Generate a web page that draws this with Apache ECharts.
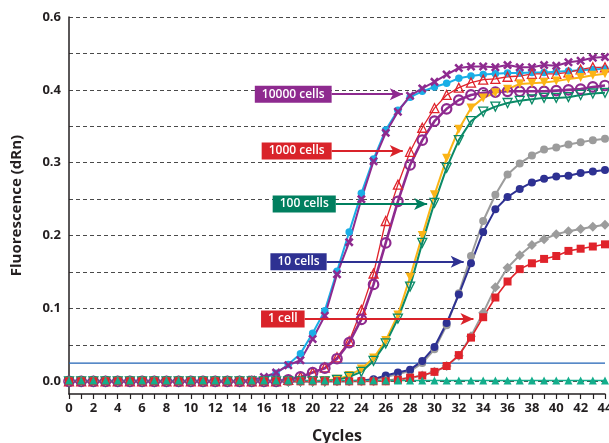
<!DOCTYPE html>
<html>
<head>
<meta charset="utf-8">
<script src="https://cdn.jsdelivr.net/npm/echarts@6/dist/echarts.min.js"></script>
<style>
  html, body { margin: 0; padding: 0; background: #fff; }
  #chart { width: 609px; height: 443px; }
</style>
</head>
<body>
<div id="chart"></div>
<script>
// PCR cycle numbers
const cycles = [0,1,2,3,4,5,6,7,8,9,10,11,12,13,14,15,16,17,18,19,20,21,22,23,24,25,26,27,28,29,30,31,32,33,34,35,36,37,38,39,40,41,42,43,44];

// Fluorescence (dRn) per cycle, two replicates per template amount
const cells10000A = [0,0,0,0,0,0,0,0,0,0,0,0,0,0,0,0.001,0.004,0.011,0.023,0.038,0.066,0.097,0.151,0.205,0.258,0.305,0.345,0.372,0.390,0.398,0.404,0.409,0.416,0.419,0.421,0.422,0.423,0.423,0.424,0.424,0.425,0.426,0.427,0.428,0.429];
const cells10000B = [0,0,0,0,0,0,0,0,0,0,0,0,0,0,0,0.002,0.006,0.012,0.022,0.029,0.058,0.090,0.147,0.191,0.250,0.302,0.341,0.370,0.392,0.402,0.411,0.421,0.430,0.432,0.432,0.431,0.434,0.431,0.431,0.434,0.433,0.438,0.440,0.444,0.445];
const cells1000A = [0,0,0,0,0,0,0,0,0,0,0,0,0,0,0,0,0,0,0.002,0.006,0.012,0.019,0.033,0.055,0.098,0.148,0.220,0.270,0.315,0.348,0.375,0.393,0.403,0.410,0.414,0.415,0.418,0.419,0.422,0.422,0.422,0.424,0.428,0.431,0.431];
const cells1000B = [0,0,0,0,0,0,0,0,0,0,0,0,0,0,0,0,0,0,0.002,0.006,0.012,0.018,0.031,0.053,0.085,0.133,0.190,0.247,0.297,0.331,0.357,0.374,0.386,0.393,0.396,0.397,0.398,0.398,0.398,0.398,0.399,0.400,0.401,0.404,0.406];
const cells100A = [0,0,0,0,0,0,0,0,0,0,0,0,0,0,0,0,0,0,0,0,0,0.001,0.003,0.008,0.017,0.032,0.056,0.091,0.143,0.200,0.256,0.306,0.346,0.375,0.389,0.396,0.401,0.408,0.409,0.410,0.412,0.415,0.417,0.420,0.422];
const cells100B = [0,0,0,0,0,0,0,0,0,0,0,0,0,0,0,0,0,0,0,0,0,0,0.002,0.006,0.013,0.028,0.052,0.086,0.130,0.190,0.245,0.293,0.331,0.357,0.370,0.377,0.382,0.385,0.387,0.389,0.389,0.390,0.393,0.395,0.396];
const cells10A = [0,0,0,0,0,0,0,0,0,0,0,0,0,0,0,0,0,0,0,0,0,0,0,0,0,0.002,0.006,0.010,0.014,0.025,0.044,0.077,0.121,0.172,0.220,0.256,0.284,0.299,0.310,0.318,0.321,0.325,0.328,0.331,0.333];
const cells10B = [0,0,0,0,0,0,0,0,0,0,0,0,0,0,0,0,0,0,0,0,0,0,0,0,0.001,0.003,0.008,0.012,0.016,0.028,0.047,0.080,0.119,0.162,0.205,0.236,0.253,0.264,0.273,0.278,0.281,0.282,0.286,0.288,0.290];
const cells1A = [0,0,0,0,0,0,0,0,0,0,0,0,0,0,0,0,0,0,0,0,0,0,0,0,0,0,0.001,0.003,0.005,0.008,0.013,0.021,0.035,0.062,0.094,0.129,0.156,0.173,0.187,0.195,0.202,0.206,0.209,0.212,0.215];
const cells1B = [0,0,0,0,0,0,0,0,0,0,0,0,0,0,0,0,0,0,0,0,0,0,0,0,0,0,0,0.002,0.005,0.008,0.013,0.021,0.036,0.060,0.088,0.115,0.137,0.154,0.162,0.168,0.172,0.179,0.182,0.185,0.188];
const noTemplate = [0.001,0.001,0.001,0.001,0.001,0.001,0.001,0.001,0.001,0.001,0.001,0.001,0.001,0.001,0.001,0.001,0.001,0.001,0.001,0.001,0.001,0.001,0.001,0.001,0.001,0.001,0.001,0.001,0.001,0.001,0.001,0.001,0.001,0.001,0.001,0.001,0.001,0.001,0.001,0.001,0.001,0.001,0.001,0.001,0.001];

// Threshold fluorescence, drawn across the whole cycle range
const threshold = 0.025;
const thresholdCycles = [0, 44];

// Y axis labels
const yLabelValues = [0, 0.1, 0.2, 0.3, 0.4, 0.5];
const yLabelTexts = ['0.0', '0.1', '0.2', '0.3', '0.4', '0.6'];
const yGridValues = [0, 0.05, 0.1, 0.15, 0.2, 0.25, 0.3, 0.35, 0.4, 0.45, 0.5];

// Callout texts
const calloutTexts = ['10000 cells', '1000 cells', '100 cells', '10 cells', '1 cell'];

const FONT = '"Open Sans", "Noto Sans", sans-serif';
const crossPath = 'path://M0,2 L2,0 L5,3 L8,0 L10,2 L7,5 L10,8 L8,10 L5,7 L2,10 L0,8 L3,5 Z';

function pairs(values) {
  return cycles.map((c, i) => [c, values[i]]);
}

// Callout: boxed label with an arrow, anchored in data coordinates
function callout(text, color, x0, x1, y) {
  return {
    silent: true,
    animation: false,
    symbol: ['none', 'arrow'],
    symbolSize: [9, 13],
    lineStyle: { color: color, width: 2, type: 'solid' },
    label: {
      show: true,
      position: 'start',
      distance: 0,
      formatter: text,
      color: '#fff',
      fontFamily: FONT,
      fontWeight: 600,
      fontSize: 12,
      backgroundColor: color,
      padding: [3, 7, 2, 7]
    },
    emphasis: { disabled: true },
    data: [[{ coord: [x0, y] }, { coord: [x1, y] }]]
  };
}

function lineSeries(name, values, opt) {
  const s = {
    name: name,
    type: 'line',
    data: pairs(values),
    symbol: opt.symbol,
    symbolSize: opt.size,
    symbolRotate: opt.rotate || 0,
    showAllSymbol: true,
    lineStyle: { color: opt.color, width: opt.width },
    itemStyle: opt.hollow
      ? { color: 'rgba(255,255,255,0)', borderColor: opt.color, borderWidth: opt.border || 1.4 }
      : { color: opt.color },
    emphasis: { disabled: true },
    animation: false
  };
  if (opt.markLine) s.markLine = opt.markLine;
  return s;
}

const PURPLE = '#8e2a8f', CYAN = '#1aaee6', RED = '#e0232b', YELLOW = '#fbb416',
      GREEN = '#0b8a67', GRAY = '#9c9c9c', NAVY = '#2e3192', TEAL = '#13ae8c',
      THRESH = '#1f62b5';

const series = [
  {
    name: 'Threshold',
    type: 'line',
    data: thresholdCycles.map(c => [c, threshold]),
    symbol: 'none',
    lineStyle: { color: THRESH, width: 1.2 },
    emphasis: { disabled: true },
    silent: true,
    animation: false
  },
  lineSeries('10000 cells A', cells10000A, { symbol: 'circle', size: 7.5, color: CYAN, width: 2 }),
  lineSeries('10000 cells B', cells10000B, { symbol: crossPath, size: 9, color: PURPLE, width: 2,
    markLine: callout(calloutTexts[0], PURPLE, 21.56, 27.4, 0.394) }),
  lineSeries('1000 cells A', cells1000A, { symbol: 'triangle', size: 9, color: RED, width: 1.3, hollow: true, border: 1.3,
    markLine: callout(calloutTexts[1], '#d9232a', 21.56, 27.4, 0.316) }),
  lineSeries('1000 cells B', cells1000B, { symbol: 'circle', size: 9.5, color: PURPLE, width: 2.6, hollow: true, border: 2.2 }),
  lineSeries('100 cells A', cells100A, { symbol: 'triangle', size: 9, rotate: 180, color: YELLOW, width: 2 }),
  lineSeries('100 cells B', cells100B, { symbol: 'triangle', size: 9, rotate: 180, color: GREEN, width: 2, hollow: true, border: 1.3,
    markLine: callout(calloutTexts[2], '#007f5f', 21.9, 29.4, 0.2435) }),
  lineSeries('10 cells A', cells10A, { symbol: 'circle', size: 8, color: GRAY, width: 2 }),
  lineSeries('10 cells B', cells10B, { symbol: 'circle', size: 8, color: NAVY, width: 2,
    markLine: callout(calloutTexts[3], NAVY, 21.15, 32.4, 0.164) }),
  lineSeries('1 cell A', cells1A, { symbol: 'diamond', size: 10, color: GRAY, width: 2 }),
  lineSeries('1 cell B', cells1B, { symbol: 'rect', size: 8, color: RED, width: 1.6,
    markLine: callout(calloutTexts[4], '#d9232a', 19.34, 33.2, 0.0856) }),
  lineSeries('NTC', noTemplate, { symbol: 'triangle', size: 8, color: TEAL, width: 1.5 })
];

const chart = echarts.init(document.getElementById('chart'), null, { renderer: 'canvas' });
chart.setOption({
  animation: false,
  backgroundColor: '#fff',
  grid: { left: 69, right: 4, top: 17, bottom: 49, containLabel: false, outerBoundsMode: 'none' },
  xAxis: {
    type: 'value',
    min: 0, max: 44, interval: 2,
    name: 'Cycles',
    nameLocation: 'middle',
    nameGap: 34,
    nameTextStyle: { fontFamily: FONT, fontWeight: 700, fontSize: 16, color: '#231f20' },
    axisLine: { onZero: false, lineStyle: { color: '#231f20', width: 1.5 } },
    axisTick: { show: true, inside: false, length: 5, lineStyle: { color: '#231f20', width: 1.2 } },
    minorTick: { show: true, splitNumber: 2, length: 5, lineStyle: { color: '#231f20', width: 1.2 } },
    axisLabel: { fontFamily: FONT, fontWeight: 700, fontSize: 13, color: '#231f20', margin: 8 },
    splitLine: { show: false }
  },
  yAxis: {
    type: 'value',
    min: -0.0174, max: 0.5,
    name: 'Fluorescence (dRn)',
    nameLocation: 'middle',
    nameGap: 45,
    nameTextStyle: { fontFamily: FONT, fontWeight: 700, fontSize: 15, color: '#231f20' },
    axisLine: { show: true, lineStyle: { color: '#231f20', width: 1.5 } },
    axisTick: { show: false, customValues: yGridValues },
    axisLabel: {
      customValues: yLabelValues,
      fontFamily: FONT, fontWeight: 700, fontSize: 13, color: '#231f20', margin: 8,
      formatter: function (v) {
        const i = yLabelValues.findIndex(t => Math.abs(t - v) < 1e-6);
        return i >= 0 ? yLabelTexts[i] : '';
      }
    },
    splitLine: { show: true, lineStyle: { color: '#4a4a4a', width: 1, type: [4, 3] } }
  },
  series: series
});
</script>
</body>
</html>
